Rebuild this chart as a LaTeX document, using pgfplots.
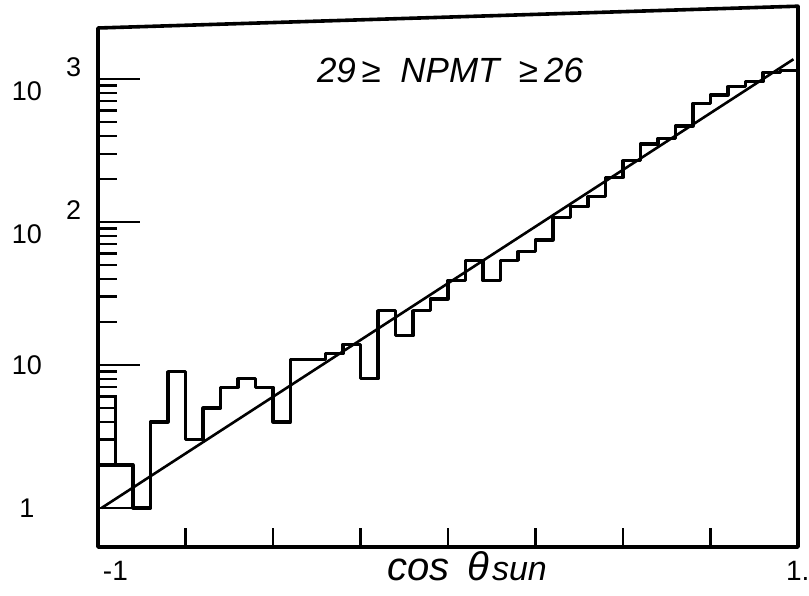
\documentclass[border=0pt]{standalone}
\usepackage{fontspec}
\setmainfont{Liberation Sans}
\usepackage{pgfplots}
\pgfplotsset{compat=1.18}

\begin{document}
\begin{tikzpicture}
\begin{axis}[
  name=ax,
  scale only axis,
  width=350pt, height=259.5pt,
  xmin=-1, xmax=1,
  ymode=log, ymin=0.5337, ymax=2275,
  axis line style={draw=none},
  tick align=inside,
  xtick pos=left, ytick pos=left,
  xtick={-1,1},
  xticklabels={\rlap{\hspace{2.5pt}-1},\rlap{\hspace{-6pt}1.}},
  minor xtick={-0.75,-0.5,-0.25,0,0.25,0.5,0.75},
  ytick={1,10,100,1000},
  yticklabels={1,10,{10\rlap{\hspace{12pt}\raisebox{11.75pt}{2}}},{10\rlap{\hspace{12pt}\raisebox{11.75pt}{3}}}},
  major tick length=21pt,
  minor tick length=9.5pt,
  tick style={line width=1.3pt, black},
  yticklabel style={anchor=center, xshift=-35.5pt, font=\fontsize{13.5}{16}\selectfont},
  xticklabel style={anchor=base, yshift=-16.5pt, font=\fontsize{14}{16}\selectfont},
  xlabel={cos\hspace{9pt}θ\hspace{1.5pt}{\fontsize{17}{19}\selectfont sun}},
  xlabel style={at={(axis description cs:0.5,0)}, anchor=base, xshift=9.5pt, yshift=-16.5pt, font=\fontsize{20}{22}\selectfont\itshape},
]
% histogram: counts per bin of width 0.05, left edges
\addplot[const plot, line width=1.6pt, black, line join=round] table {
x      n
-1.00  2
-0.95  2
-0.90  1
-0.85  4
-0.80  9
-0.75  3
-0.70  5
-0.65  7
-0.60  8
-0.55  7
-0.50  4
-0.45  11
-0.40  11
-0.35  12
-0.30  14
-0.25  8
-0.20  24
-0.15  16
-0.10  24
-0.05  29
 0.00  39
 0.05  54
 0.10  39
 0.15  54
 0.20  62
 0.25  75
 0.30  108
 0.35  128
 0.40  150
 0.45  205
 0.50  268
 0.55  351
 0.60  385
 0.65  469
 0.70  676
 0.75  773
 0.80  884
 0.85  958
 0.90  1114
 0.95  1143
 1.00  1143
};
% narrow spike in the first bins
\addplot[line width=1.2pt, black] coordinates {(-0.95,2) (-0.95,6)};
% exponential fit (straight on the log scale)
\addplot[line width=1.3pt, black] coordinates {(-0.99,1.0) (0.987,1375)};

\node[anchor=base, font=\fontsize{17.5}{20}\selectfont\itshape]
  at (rel axis cs:0.5,1) [xshift=1pt, yshift=-27pt] {29\,≥\ \ NPMT\ \ ≥\,26};

\coordinate (bl) at (rel axis cs:0,0);
\coordinate (tl) at (rel axis cs:0,1);
\coordinate (tr) at (rel axis cs:1,1.042);
\coordinate (br) at (rel axis cs:1,0);
\end{axis}
% frame, with the slightly tilted top edge
\draw[line width=1.8pt, line join=round] (tl) -- (bl) -- (br) -- (tr) -- cycle;
\path ([shift={(-49pt,-24pt)}]bl) rectangle ([shift={(355.5pt,273.5pt)}]bl);
\end{tikzpicture}
\end{document}
